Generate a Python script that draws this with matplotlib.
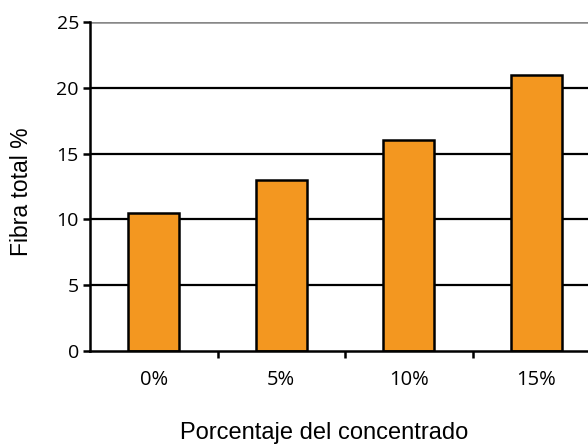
import numpy as np
import matplotlib.pyplot as plt

categorias = ["0%", "5%", "10%", "15%"]
fibra = [10.5, 13.0, 16.0, 21.0]
yticks = [0, 5, 10, 15, 20, 25]

fig = plt.figure(figsize=(5.88, 4.48), dpi=100)
ax = fig.add_axes([90/588, 97/448, 510/588, 329/448])

x = np.arange(len(categorias))
ax.bar(x, fibra, width=0.4, color="#F39720", edgecolor="black", linewidth=1.8, zorder=3)

ax.set_xlim(-0.5, len(categorias) - 0.5)
ax.set_ylim(0, 25)
ax.set_yticks(yticks)
for v in yticks[1:-1]:
    ax.axhline(v, color="black", lw=1.6, zorder=1)
ax.axhline(25, color="#888888", lw=1.8, zorder=1)

for s in ["top", "right"]:
    ax.spines[s].set_visible(False)
for s in ["left", "bottom"]:
    ax.spines[s].set_linewidth(1.8)
    ax.spines[s].set_zorder(4)

# category labels centred under bars, tick marks on the boundaries
ax.set_xticks(x)
ax.set_xticklabels(categorias, fontsize=14.5, family="Open Sans")
ax.tick_params(axis="x", which="major", length=0, pad=14)
ax.set_xticks(np.arange(len(categorias)) + 0.5, minor=True)
ax.tick_params(axis="x", which="minor", length=5, width=1.8, direction="out")
ax.tick_params(axis="y", length=5, width=1.8, pad=3)
for t in ax.get_yticklabels():
    t.set_fontsize(14)
    t.set_family("Open Sans")

ax.set_ylabel("Fibra total %", fontsize=16.5, family="Liberation Sans")
ax.set_xlabel("Porcentaje del concentrado", fontsize=17, family="Liberation Sans")
ax.xaxis.set_label_coords(0.459, -0.215)
ax.yaxis.set_label_coords(-0.112, 0.483)

fig.savefig("out.png", dpi=100)
